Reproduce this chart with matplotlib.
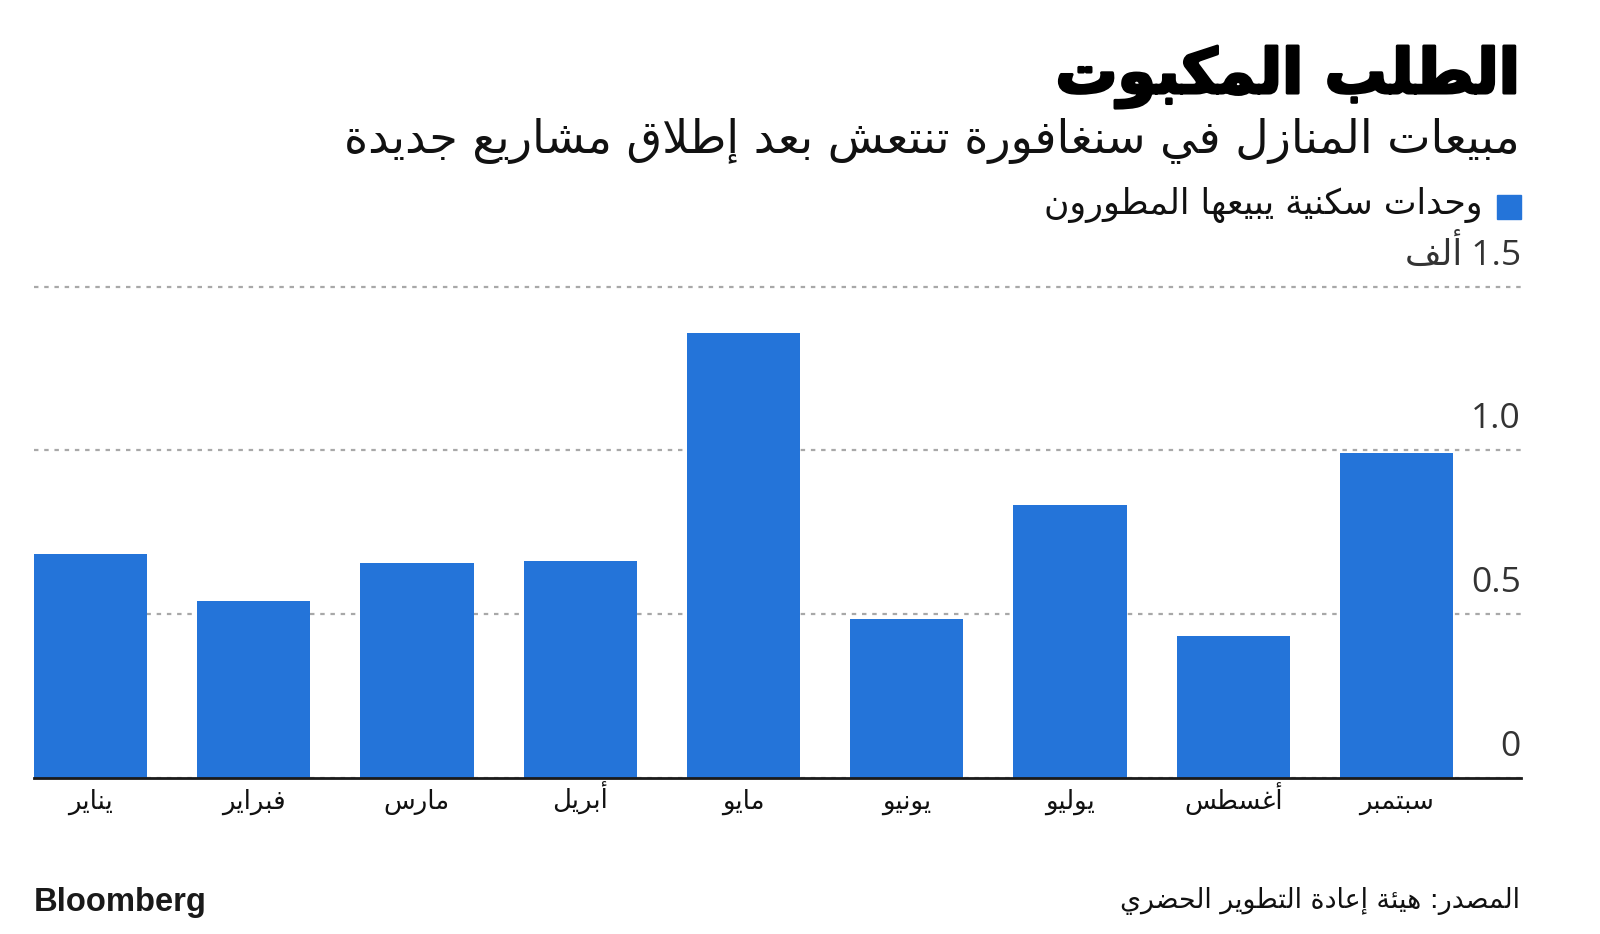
import matplotlib
matplotlib.use('Agg')
import matplotlib.pyplot as plt
import matplotlib.patheffects as pe
from matplotlib.transforms import blended_transform_factory

# ---------------- data ----------------
months = ["يناير", "فبراير", "مارس", "أبريل", "مايو", "يونيو", "يوليو", "أغسطس", "سبتمبر"]
sales_k = [0.682, 0.540, 0.656, 0.662, 1.359, 0.486, 0.832, 0.433, 0.991]
y_ticks = [0, 0.5, 1.0, 1.5]
y_tick_labels = ["0", "0.5", "1.0", "1.5"]
unit_word = "ألف"
title_txt = "الطلب المكبوت"
subtitle_txt = "مبيعات المنازل في سنغافورة تنتعش بعد إطلاق مشاريع جديدة"
legend_txt = "وحدات سكنية يبيعها المطورون"
source_txt = "المصدر: هيئة إعادة التطوير الحضري"
brand_txt = "Bloomberg"

# ---------------- minimal Arabic shaping (presentation forms) ----------------
FOUR = {'ئ': 0xFE89, 'ب': 0xFE8F, 'ت': 0xFE95, 'ث': 0xFE99, 'ج': 0xFE9D, 'ح': 0xFEA1,
        'خ': 0xFEA5, 'س': 0xFEB1, 'ش': 0xFEB5, 'ص': 0xFEB9, 'ض': 0xFEBD, 'ط': 0xFEC1,
        'ظ': 0xFEC5, 'ع': 0xFEC9, 'غ': 0xFECD, 'ف': 0xFED1, 'ق': 0xFED5, 'ك': 0xFED9,
        'ل': 0xFEDD, 'م': 0xFEE1, 'ن': 0xFEE5, 'ه': 0xFEE9, 'ي': 0xFEF1}
TWO = {'آ': 0xFE81, 'أ': 0xFE83, 'ؤ': 0xFE85, 'إ': 0xFE87, 'ا': 0xFE8D, 'ة': 0xFE93,
       'د': 0xFEA9, 'ذ': 0xFEAB, 'ر': 0xFEAD, 'ز': 0xFEAF, 'و': 0xFEED, 'ى': 0xFEEF}
ONE = {'ء': 0xFE80}
LAMALEF = {'آ': (0xFEF5, 0xFEF6), 'أ': (0xFEF7, 0xFEF8), 'إ': (0xFEF9, 0xFEFA), 'ا': (0xFEFB, 0xFEFC)}


def shape(s):
    toks = []
    i = 0
    while i < len(s):
        c = s[i]
        if c == 'ل' and i + 1 < len(s) and s[i + 1] in LAMALEF:
            toks.append(('LA', s[i + 1]))
            i += 2
        else:
            toks.append((c, None))
            i += 1

    def jl(t):
        return t[0] in FOUR

    def jr(t):
        return t[0] == 'LA' or t[0] in FOUR or t[0] in TWO

    out = []
    for k, t in enumerate(toks):
        prev = toks[k - 1] if k > 0 else None
        nxt = toks[k + 1] if k + 1 < len(toks) else None
        jp = prev is not None and jl(prev) and jr(t)
        jn = nxt is not None and jl(t) and jr(nxt)
        c, a = t
        if c == 'LA':
            iso, fin = LAMALEF[a]
            out.append(chr(fin if jp else iso))
        elif c in FOUR:
            b = FOUR[c]
            out.append(chr(b + (3 if (jp and jn) else 1 if jp else 2 if jn else 0)))
        elif c in TWO:
            b = TWO[c]
            out.append(chr(b + 1 if jp else b))
        elif c in ONE:
            out.append(chr(ONE[c]))
        else:
            out.append(c)
    return ''.join(out)


def ar(s):
    return shape(s)[::-1]


# ---------------- figure ----------------
W, H = 1600, 934
fig = plt.figure(figsize=(W / 100, H / 100), dpi=100)
fig.patch.set_facecolor('white')

AR = ['DejaVu Sans']
NUM = ['Open Sans', 'DejaVu Sans']
BLUE = '#2474d9'

x_left, x_right = 33.7, 1521.0
y_zero, px_per_unit = 777.7, 327.3
y_top_val = 1.55
y_top_px = y_zero - y_top_val * px_per_unit
ax = fig.add_axes([x_left / W, 1 - y_zero / H, (x_right - x_left) / W, (y_zero - y_top_px) / H])

bar_w = 0.694
xs = list(range(len(months)))
ax.bar(xs, sales_k, width=bar_w, color=BLUE, zorder=2)
ax.set_xlim(-bar_w / 2, -bar_w / 2 + (x_right - x_left) / 163.27)
ax.set_ylim(0, y_top_val)

for s in ax.spines.values():
    s.set_visible(False)
ax.axhline(0, color='#1a1a1a', lw=2.0, zorder=3, clip_on=False)

ax.set_yticks(y_ticks)
ax.yaxis.grid(True, color='#a8a8a8', lw=1.6, linestyle=(0, (2.0, 2.6)), zorder=0)
ax.set_axisbelow(True)
ax.tick_params(axis='y', left=False, labelleft=False)

ax.set_xticks(xs)
ax.tick_params(axis='x', length=0, labelbottom=False)

# month labels (common baseline under the axis)
month_texts = []
for xi, m in zip(xs, months):
    month_texts.append(ax.annotate(ar(m), xy=(xi, 0), xycoords='data', xytext=(0, -22.3),
                                   textcoords='offset points', ha='center', va='baseline',
                                   fontsize=17, family=AR, color='#111111',
                                   annotation_clip=False))

trans = blended_transform_factory(ax.transAxes, ax.transData)
for v, lab in zip(y_ticks, y_tick_labels):
    txt = lab if v < 1.5 else ar(unit_word) + ' ' + lab
    ax.annotate(txt, xy=(1, v), xycoords=trans, xytext=(0, 15.8), textcoords='offset points',
                ha='right', va='baseline', fontsize=25.5, color='#333333', family=NUM,
                annotation_clip=False)


def ftext(xpx, ypx, s, **kw):
    return fig.text(xpx / W, 1 - ypx / H, s, **kw)


t_title = ftext(1519, 93, ar(title_txt), ha='right', va='baseline', fontsize=44,
                fontweight='bold', family=AR, color='#000000',
                path_effects=[pe.withStroke(linewidth=2.2, foreground='#000000')])
t_sub = ftext(1520, 153, ar(subtitle_txt), ha='right', va='baseline', fontsize=30,
              family=AR, color='#111111')
t_leg = ftext(1482, 214, ar(legend_txt), ha='right', va='baseline', fontsize=22,
              family=AR, color='#111111')
t_src = ftext(1520, 908, ar(source_txt), ha='right', va='baseline', fontsize=19,
              family=AR, color='#111111')
ftext(34, 911, brand_txt, ha='left', va='baseline', fontsize=23.6, fontweight='bold',
      family=['Liberation Sans'], color='#1a1a1a')

# legend swatch
fig.patches.append(plt.Rectangle((1496.7 / W, 1 - 219.3 / H), 24 / W, 24 / H,
                                 transform=fig.transFigure, color=BLUE, figure=fig))

# fit Arabic text widths to the reference layout
fig.canvas.draw()
r = fig.canvas.get_renderer()
for t, target in [(t_title, 464), (t_sub, 1173), (t_leg, 441), (t_src, 400)]:
    w = t.get_window_extent(r).width
    t.set_fontsize(t.get_fontsize() * target / w)

tot = sum(t.get_window_extent(r).width for t in month_texts)
fs = 17 * 487 / tot * 1.12
for t in month_texts:
    t.set_fontsize(fs)

fig.savefig('out.png', dpi=100, facecolor='white')
